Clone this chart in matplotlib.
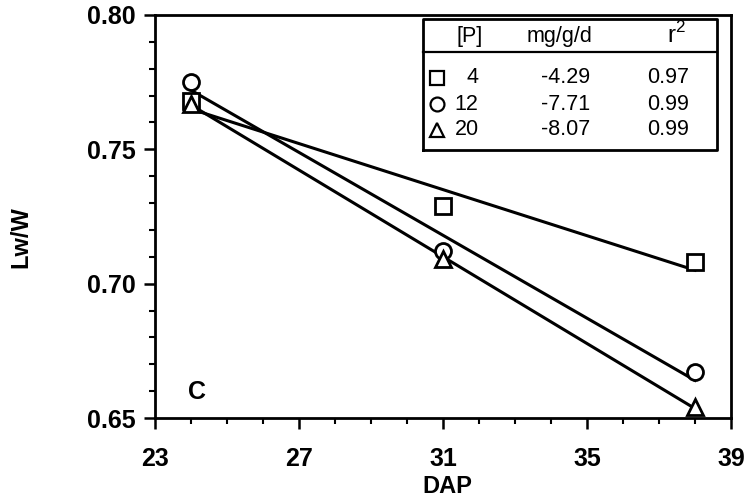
import numpy as np
import matplotlib
matplotlib.use("Agg")
import matplotlib.pyplot as plt
from matplotlib.ticker import MultipleLocator, FixedLocator

plt.rcParams['font.family'] = ['Liberation Sans', 'DejaVu Sans']

dap = [24, 31, 38]
series_labels = ['4', '12', '20']
markers = ['s', 'o', '^']
values = {
    '4': [0.768, 0.729, 0.708],
    '12': [0.775, 0.712, 0.667],
    '20': [0.767, 0.709, 0.654],
}
slopes_txt = ['-4.29', '-7.71', '-8.07']
r2_txt = ['0.97', '0.99', '0.99']
xticks = [23, 27, 31, 35, 39]
yticks = [0.65, 0.70, 0.75, 0.80]

fig = plt.figure(figsize=(7.5, 5), dpi=100)
ax = fig.add_axes([0.2067, 0.164, 0.768, 0.806])

x = np.array(dap, dtype=float)
for lab, mk in zip(series_labels, markers):
    y = np.array(values[lab])
    m, b = np.polyfit(x, y, 1)
    xx = np.array([x.min(), x.max()])
    ax.plot(xx, m * xx + b, color='black', lw=2.2, zorder=2)
    ax.plot(x, y, linestyle='none', marker=mk, markersize=11.5,
            markerfacecolor='white', markeredgecolor='black',
            markeredgewidth=2.0, zorder=3)

ax.set_xlim(23, 39)
ax.set_ylim(0.65, 0.80)
ax.xaxis.set_major_locator(FixedLocator(xticks))
ax.xaxis.set_minor_locator(MultipleLocator(1))
ax.yaxis.set_major_locator(FixedLocator(yticks))
ax.yaxis.set_minor_locator(MultipleLocator(0.01))
ax.set_xticklabels([str(t) for t in xticks], fontsize=18, fontweight='bold')
ax.set_yticklabels(['%.2f' % t for t in yticks], fontsize=18, fontweight='semibold')
ax.tick_params(axis='both', which='major', direction='out', length=8, width=1.8)
ax.tick_params(axis='both', which='minor', direction='out', length=4.5, width=1.5)
ax.tick_params(axis='x', which='major', pad=13)
ax.tick_params(axis='y', which='major', pad=6)
for sp in ax.spines.values():
    sp.set_linewidth(2.0)

ax.set_xlabel('DAP', fontsize=17, fontweight='bold')
ax.xaxis.set_label_coords(0.507, -0.142)
ax.set_ylabel('Lw/W', fontsize=17, fontweight='bold')
ax.yaxis.set_label_coords(-0.2135, 0.45)

ax.text(0.073, 0.0645, 'C', transform=ax.transAxes, fontsize=18,
        fontweight='bold', ha='center', va='center')

# legend table
x0, x1, yb, yt, yh = 0.465, 0.976, 0.665, 0.990, 0.908
ax.plot([x0, x1, x1, x0, x0], [yb, yb, yt, yt, yb], transform=ax.transAxes,
        color='black', lw=2.0, clip_on=False, zorder=5)
ax.plot([x0, x1], [yh, yh], transform=ax.transAxes, color='black', lw=1.6,
        clip_on=False, zorder=5)
fs = 15.5
ax.text(0.547, 0.946, '[P]', transform=ax.transAxes, fontsize=fs, ha='center', va='center')
ax.text(0.703, 0.946, 'mg/g/d', transform=ax.transAxes, fontsize=fs, ha='center', va='center')
ax.text(0.905, 0.950, r'r$^{\mathregular{2}}$', transform=ax.transAxes, fontsize=fs + 2,
        ha='center', va='center')
row_y = [0.844, 0.779, 0.715]
for ry, lab, mk, s, r in zip(row_y, series_labels, markers, slopes_txt, r2_txt):
    ax.plot([0.49], [ry], transform=ax.transAxes, marker=mk, markersize=10,
            markerfacecolor='white', markeredgecolor='black', markeredgewidth=1.6,
            linestyle='none', clip_on=False, zorder=6)
    ax.text(0.562, ry, lab, transform=ax.transAxes, fontsize=fs, ha='right', va='center')
    ax.text(0.712, ry, s, transform=ax.transAxes, fontsize=fs, ha='center', va='center')
    ax.text(0.89, ry, r, transform=ax.transAxes, fontsize=fs, ha='center', va='center')

fig.savefig('out.png', dpi=100)
